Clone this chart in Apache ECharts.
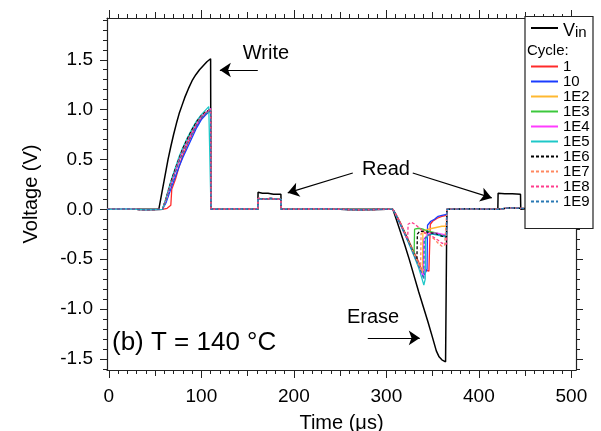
<!DOCTYPE html>
<html>
<head>
<meta charset="utf-8">
<script src="https://cdn.jsdelivr.net/npm/echarts@6/dist/echarts.min.js"></script>
<style>html,body{margin:0;padding:0;background:#fff}#c{width:601px;height:431px}</style>
</head>
<body>
<div id="c"></div>
<script>
// ---------- data (time in µs, voltage in V) ----------
const cycleNames = ['1','10','1E2','1E3','1E4','1E5','1E6','1E7','1E8','1E9'];
const cycleColors = ['#ff2a2a','#1a3cff','#ffb830','#3cc83c','#ff3cff','#1ec8c8','#000000','#ff8860','#ff3c8c','#2878b4'];
const cycleDashed = [false,false,false,false,false,false,true,true,true,true];

const vin = [[-2,0],[54,0],[56,0.1],[58,0.2],[60,0.3],[62,0.4],[64,0.5],[67,0.63],[70,0.75],[73,0.86],[76,0.96],[79,1.04],[82,1.12],[86,1.21],[90,1.29],[94,1.35],[98,1.4],[102,1.44],[106,1.48],[110,1.51],[110.4,0],
  [161,0],[161.3,0.17],[166,0.16],[172,0.16],[178,0.15],[186,0.15],[186.3,0],
  [307,0],[310,-0.08],[315,-0.22],[320,-0.36],[325,-0.51],[330,-0.67],[335,-0.83],[340,-0.98],[345,-1.13],[350,-1.29],[354,-1.42],[357,-1.48],[360,-1.51],[362,-1.5],[364,-1.53],[365,-1.55],[365.4,0],
  [420.5,0],[420.8,0.16],[428,0.155],[436,0.155],[445,0.15],[445.3,0],[505,0]];

// shared parts of the cell-output traces
const cellPre  = [[-2,0],[20,0.005],[40,-0.005],[58,0]];
const cellRead1 = [[110.4,0],[140,0.005],[161,0],[161.3,0.11],[168,0.1],[175,0.11],[182,0.1],[186,0.1],[186.3,0],[230,0.005],[270,-0.005],[300,0]];
const cellPost = [[365.4,0],[390,0.005],[420.5,0],[420.8,0.01],[433,0.015],[445,0.01],[445.3,0],[480,0],[505,0]];

// write-pulse response per cycle count
const write1   = [[60,0],[63,0.01],[67,0.04],[68,0.2],[69,0.19],[72,0.3],[76,0.43],[80,0.54],[85,0.65],[90,0.75],[95,0.84],[100,0.91],[105,0.96],[110,0.99]];
const write10  = [[59,0.01],[62,0.07],[65,0.15],[68,0.23],[72,0.33],[76,0.43],[80,0.52],[85,0.62],[90,0.72],[95,0.82],[100,0.9],[105,0.95],[110,0.99]];
const write1E2 = [[59,0.02],[62,0.1],[65,0.2],[68,0.28],[72,0.39],[76,0.5],[80,0.59],[85,0.69],[90,0.78],[95,0.87],[100,0.93],[105,0.97],[110,1.0]];
const write1E3 = [[59,0.02],[62,0.11],[65,0.2],[68,0.29],[72,0.4],[76,0.5],[80,0.6],[85,0.7],[90,0.79],[95,0.87],[100,0.93],[105,0.97],[110,1.0]];
const write1E4 = [[59,0.02],[62,0.1],[65,0.19],[68,0.27],[72,0.38],[76,0.49],[80,0.58],[85,0.68],[90,0.77],[95,0.86],[100,0.93],[105,0.97],[110,1.01]];
const write1E5 = [[59,0.03],[62,0.12],[65,0.22],[68,0.31],[72,0.42],[76,0.53],[80,0.62],[85,0.72],[90,0.81],[95,0.89],[100,0.95],[105,1.0],[108,1.03],[110,1.03]];
const write1E6 = [[59,0.02],[62,0.11],[65,0.21],[68,0.3],[72,0.41],[76,0.51],[80,0.61],[85,0.71],[90,0.8],[95,0.88],[100,0.94],[105,0.98],[110,1.0]];
const write1E7 = [[59,0.02],[62,0.1],[65,0.19],[68,0.27],[72,0.38],[76,0.49],[80,0.58],[85,0.68],[90,0.77],[95,0.86],[100,0.93],[105,0.97],[110,1.0]];
const write1E8 = [[59,0.02],[62,0.1],[65,0.2],[68,0.28],[72,0.39],[76,0.5],[80,0.59],[85,0.69],[90,0.78],[95,0.86],[100,0.93],[105,0.97],[110,1.0]];
const write1E9 = [[59,0.01],[62,0.09],[65,0.18],[68,0.26],[72,0.37],[76,0.48],[80,0.57],[85,0.67],[90,0.76],[95,0.85],[100,0.92],[105,0.96],[110,0.99]];

// erase-pulse response per cycle count
const erase1   = [[307,0],[310,-0.04],[315,-0.13],[320,-0.23],[325,-0.33],[330,-0.43],[335,-0.53],[338,-0.6],[342,-0.61],[346,-0.62],[347,-0.6],[347.5,-0.15],[350,-0.12],[355,-0.09],[360,-0.07],[365,-0.06]];
const erase10  = [[307,0],[310,-0.05],[315,-0.14],[320,-0.24],[325,-0.34],[330,-0.44],[335,-0.55],[338,-0.61],[341,-0.66],[343,-0.67],[344,-0.6],[344.5,-0.16],[348,-0.12],[352,-0.1],[356,-0.07],[360,-0.06],[365,-0.05]];
const erase1E2 = [[307,0],[310,-0.05],[315,-0.14],[320,-0.24],[325,-0.34],[330,-0.44],[335,-0.55],[339,-0.64],[339.5,-0.22],[345,-0.2],[350,-0.19],[355,-0.18],[360,-0.17],[365,-0.17]];
const erase1E3 = [[307,0],[310,-0.05],[315,-0.14],[320,-0.24],[325,-0.34],[330,-0.45],[330.5,-0.2],[335,-0.19],[340,-0.2],[345,-0.22],[350,-0.23],[355,-0.24],[360,-0.26],[365,-0.27]];
const erase1E4 = [[307,0],[310,-0.05],[315,-0.15],[320,-0.25],[325,-0.35],[330,-0.46],[335,-0.57],[338,-0.64],[340,-0.68],[340.5,-0.3],[345,-0.25],[350,-0.24],[355,-0.24],[360,-0.25],[365,-0.26]];
const erase1E5 = [[307,0],[310,-0.05],[315,-0.15],[320,-0.25],[325,-0.36],[330,-0.47],[335,-0.59],[338,-0.68],[340.5,-0.76],[342,-0.7],[342.5,-0.3],[345,-0.26],[350,-0.25],[355,-0.26],[360,-0.27],[365,-0.28]];
const erase1E6 = [[307,0],[310,-0.05],[315,-0.14],[320,-0.24],[325,-0.34],[330,-0.45],[333,-0.52],[333.5,-0.25],[336,-0.22],[340,-0.22],[345,-0.23],[350,-0.24],[355,-0.25],[360,-0.27],[365,-0.28]];
const erase1E7 = [[307,0],[310,-0.05],[315,-0.14],[320,-0.24],[325,-0.34],[330,-0.45],[335,-0.56],[337,-0.6],[337.5,-0.24],[342,-0.24],[347,-0.27],[352,-0.3],[356,-0.34],[360,-0.37],[363,-0.36],[365,-0.38]];
const erase1E8 = [[307,0],[310,-0.05],[315,-0.14],[320,-0.25],[323,-0.31],[323.5,-0.15],[327,-0.13],[331,-0.15],[336,-0.19],[341,-0.23],[346,-0.26],[351,-0.28],[356,-0.31],[360,-0.34],[365,-0.35]];
const erase1E9 = [[307,0],[310,-0.05],[315,-0.15],[320,-0.25],[325,-0.35],[330,-0.46],[335,-0.57],[339,-0.66],[340.5,-0.7],[341,-0.3],[345,-0.26],[350,-0.25],[355,-0.25],[360,-0.26],[365,-0.27]];

const writeSets = [write1,write10,write1E2,write1E3,write1E4,write1E5,write1E6,write1E7,write1E8,write1E9];
const eraseSets = [erase1,erase10,erase1E2,erase1E3,erase1E4,erase1E5,erase1E6,erase1E7,erase1E8,erase1E9];

// tick labels
const xMajorTicks = [0,100,200,300,400,500];
const xMidTicks = [50,150,250,350,450];
const yMajorTicks = [-1.5,-1.0,-0.5,0,0.5,1.0,1.5];

// annotations (data coordinates)
const arrows = [
  [[161,1.397],[120,1.397]],
  [[263.7,0.364],[193.4,0.165]],
  [[328.5,0.364],[413.9,0.114]],
  [[279.9,-1.29],[336.1,-1.29]]
];

// ---------- chart ----------
const xMinorTicks = [];
for (let k = 1; k < 50; k++) { if (k % 5 !== 0) xMinorTicks.push(k * 10); }
const yMinorTicks = [];
for (let k = -16; k <= 19; k++) { if (k % 5 !== 0) yMinorTicks.push(k / 10); }

const FONT = '"Liberation Sans", Arial, sans-serif';
const XMIN = -2, XMAX = 505, YMIN = -1.612, YMAX = 1.919;

function xAx(pos, ticks, len, opts) {
  return Object.assign({
    type: 'value', gridIndex: 0, position: pos, min: XMIN, max: XMAX,
    axisLine: { show: false, onZero: false }, splitLine: { show: false },
    axisTick: { show: true, customValues: ticks, length: len, inside: false, lineStyle: { color: '#222', width: 1 } },
    axisLabel: { show: false }
  }, opts || {});
}
function yAx(pos, ticks, len, opts) {
  return Object.assign({
    type: 'value', gridIndex: 0, position: pos, min: YMIN, max: YMAX,
    axisLine: { show: false, onZero: false }, splitLine: { show: false },
    axisTick: { show: true, customValues: ticks, length: len, inside: false, lineStyle: { color: '#222', width: 1 } },
    axisLabel: { show: false }
  }, opts || {});
}
const axisLineOn = { show: true, onZero: false, lineStyle: { color: '#222', width: 1.2 } };

const xAxes = [
  xAx('bottom', xMajorTicks, 8, {
    axisLine: axisLineOn,
    axisLabel: { show: true, customValues: xMajorTicks, fontSize: 19, color: '#000', margin: 17, fontFamily: FONT },
    name: 'Time (μs)', nameLocation: 'middle', nameGap: 43,
    nameTextStyle: { fontSize: 20, color: '#000', fontFamily: FONT }
  }),
  xAx('bottom', xMidTicks, 6),
  xAx('bottom', xMinorTicks, 4),
  xAx('top', xMajorTicks, 8, { axisLine: axisLineOn }),
  xAx('top', xMidTicks, 6),
  xAx('top', xMinorTicks, 4)
];
const yAxes = [
  yAx('left', yMajorTicks, 7, {
    axisLine: axisLineOn,
    axisLabel: { show: true, customValues: yMajorTicks, fontSize: 19, color: '#000', margin: 14, fontFamily: FONT,
      formatter: v => Number(v).toFixed(1) },
    name: 'Voltage (V)', nameLocation: 'middle', nameGap: 66,
    nameTextStyle: { fontSize: 20, color: '#000', fontFamily: FONT }
  }),
  yAx('left', yMinorTicks, 4),
  yAx('right', yMajorTicks, 7, { axisLine: axisLineOn }),
  yAx('right', yMinorTicks, 4)
];

const series = [{
  name: 'Vin', type: 'line', xAxisIndex: 0, yAxisIndex: 0, data: vin,
  symbol: 'none', showSymbol: false, z: 2,
  lineStyle: { color: '#000', width: 1.5 }, itemStyle: { color: '#000' },
  markLine: {
    silent: true, symbol: ['none', 'arrow'], symbolSize: 11,
    label: { show: false },
    lineStyle: { color: '#000', width: 1.2, type: 'solid' },
    data: arrows.map(a => [{ coord: a[0] }, { coord: a[1] }])
  }
}];
cycleNames.forEach((nm, i) => {
  series.push({
    name: nm, type: 'line', xAxisIndex: 0, yAxisIndex: 0,
    data: cellPre.concat(writeSets[i], cellRead1, eraseSets[i], cellPost),
    symbol: 'none', showSymbol: false, z: 3 + i,
    lineStyle: { color: cycleColors[i], width: 1.3, type: cycleDashed[i] ? [3, 2] : 'solid' },
    itemStyle: { color: cycleColors[i] }
  });
});

const option = {
  animation: false,
  backgroundColor: '#fff',
  textStyle: { fontFamily: FONT },
  grid: { left: 107, right: 25, top: 18, bottom: 61, containLabel: false, outerBoundsMode: 'none' },
  xAxis: xAxes,
  yAxis: yAxes,
  legend: [{
    data: ['Vin'], left: 530, top: 22, orient: 'vertical', padding: 0,
    itemWidth: 27, itemHeight: 14, selectedMode: false, z: 60,
    itemStyle: { opacity: 0 },
    formatter: () => '{v|V}{s|in}',
    textStyle: { color: '#000', fontFamily: FONT,
      rich: { v: { fontSize: 18, color: '#000', fontFamily: FONT, verticalAlign: 'bottom' },
              s: { fontSize: 15, color: '#000', fontFamily: FONT, padding: [9, 0, 0, 0] } } }
  }, {
    data: cycleNames, left: 530, top: 59, orient: 'vertical', padding: 0,
    itemWidth: 27, itemHeight: 16.75, itemGap: 0, selectedMode: false, z: 60,
    itemStyle: { opacity: 0 },
    textStyle: { color: '#000', fontSize: 15, lineHeight: 15, fontFamily: FONT }
  }],
  graphic: [
    { type: 'rect', z: 50, shape: { x: 525, y: 16.5, width: 68, height: 212 },
      style: { fill: '#fff', stroke: '#222', lineWidth: 1.2 } },
    { type: 'text', z: 60, x: 527, y: 51,
      style: { text: 'Cycle:', fontSize: 15, fontFamily: FONT, fill: '#000', verticalAlign: 'middle', align: 'left' } },
    { type: 'text', z: 60, x: 266, y: 53,
      style: { text: 'Write', fontSize: 20, fontFamily: FONT, fill: '#000', verticalAlign: 'middle', align: 'center' } },
    { type: 'text', z: 60, x: 386, y: 169,
      style: { text: 'Read', fontSize: 20, fontFamily: FONT, fill: '#000', verticalAlign: 'middle', align: 'center' } },
    { type: 'text', z: 60, x: 373, y: 317,
      style: { text: 'Erase', fontSize: 20, fontFamily: FONT, fill: '#000', verticalAlign: 'middle', align: 'center' } },
    { type: 'text', z: 60, x: 112, y: 343,
      style: { text: '(b) T = 140 °C', fontSize: 26, fontFamily: FONT, fill: '#000', verticalAlign: 'middle', align: 'left' } }
  ],
  series: series
};

const chart = echarts.init(document.getElementById('c'), null, { renderer: 'canvas' });
chart.setOption(option);
</script>
</body>
</html>
